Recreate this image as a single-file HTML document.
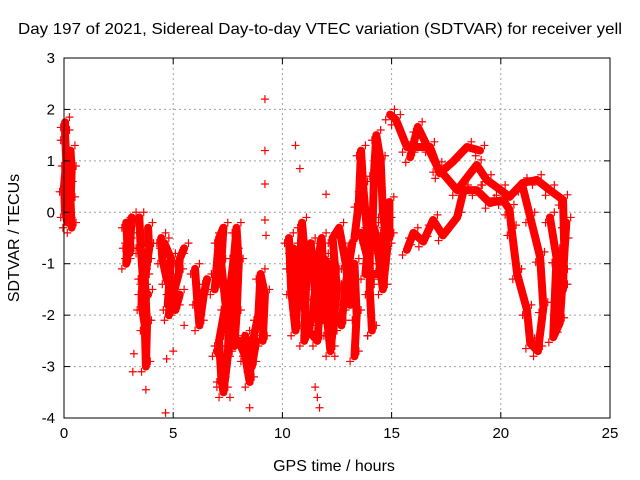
<!DOCTYPE html>
<html><head><meta charset="utf-8"><style>
body{margin:0;background:#fff}
svg{display:block;font-family:"Liberation Sans",sans-serif}
</style></head><body>
<svg id="chart" width="640" height="480">
<text x="18" y="34" font-size="16" textLength="604" lengthAdjust="spacingAndGlyphs">Day 197 of 2021, Sidereal Day-to-day VTEC variation (SDTVAR) for receiver yell</text>
<g id="grid"></g>
<g id="marks"></g>
<g id="axes"></g>
<text x="334" y="471" font-size="16" text-anchor="middle">GPS time / hours</text>
<text transform="translate(19,238) rotate(-90)" font-size="16" text-anchor="middle">SDTVAR / TECUs</text>
</svg>
<script>
const xTicks=[0,5,10,15,20,25];
const yTicks=[3,2,1,0,-1,-2,-3,-4];
const tracks=[
[[0.05,1.75],[0.05,1.5],[0.1,1.0],[0.0,0.5],[0.05,0.0],[0.15,-0.2],[0.2,0.5],[0.3,1.2],[0.35,0.8],[0.3,0.2],[0.35,-0.3]],
[[2.85,-0.2],[2.9,-0.6],[2.85,-1.0],[3.0,-0.5],[3.1,-0.1],[3.0,-0.8]],
[[3.45,-0.1],[3.5,-0.6],[3.6,-1.2],[3.55,-1.8],[3.7,-2.2],[3.75,-3.0],[3.8,-2.2],[3.7,-1.3],[3.9,-0.7],[3.85,-0.3]],
[[3.5,-0.7],[3.8,-1.0],[3.6,-1.5],[3.85,-1.6]],
[[4.45,-0.5],[4.5,-0.9],[4.7,-1.3],[4.9,-1.5],[4.8,-2.0],[5.0,-1.6],[5.25,-1.2],[5.3,-0.9],[5.5,-0.7]],
[[4.6,-0.6],[4.9,-0.9],[4.75,-1.8],[5.1,-1.9],[5.3,-1.6]],
[[6.0,-1.1],[6.1,-1.7],[6.2,-2.2],[6.4,-1.6],[6.55,-1.3]],
[[6.9,-1.5],[7.1,-0.5],[7.3,-0.3],[7.2,-1.0],[7.4,-1.8],[7.1,-2.5],[7.2,-3.2],[7.3,-3.5],[7.5,-2.8],[7.6,-1.5],[7.8,-0.8],[7.9,-0.3],[8.0,-1.0],[7.9,-2.0],[7.8,-2.6]],
[[7.0,-2.7],[7.4,-2.9],[7.2,-3.3]],
[[8.0,-2.5],[8.3,-2.8],[8.5,-3.3],[8.6,-2.6],[8.9,-2.0],[9.0,-1.2],[9.2,-1.6],[9.1,-2.5]],
[[8.3,-2.4],[8.6,-3.0],[8.8,-2.5],[8.4,-2.7]],
[[10.3,-0.5],[10.4,-1.5],[10.6,-2.3],[10.8,-1.0],[10.9,-0.2],[11.1,-1.2],[11.0,-2.5],[11.4,-2.0],[11.6,-1.0],[11.8,-0.5],[11.9,-1.5],[12.1,-2.3],[12.2,-2.7],[12.5,-1.5],[12.3,-0.5],[12.6,-0.3],[12.9,-1.0],[13.1,-1.8]],
[[10.4,-1.0],[10.7,-1.8],[11.0,-1.4],[11.3,-0.6],[11.5,-1.6],[11.8,-2.1],[12.0,-1.0],[12.3,-1.9],[12.7,-2.2],[12.9,-1.4],[13.2,-0.6]],
[[10.5,-0.7],[10.9,-1.6],[11.2,-2.3],[11.6,-2.5],[11.9,-0.9],[12.4,-1.2]],
[[13.3,-0.5],[13.5,0.2],[13.6,1.2],[13.7,0.5],[13.9,-0.5],[14.1,-0.7],[14.2,0.8],[14.3,1.5],[14.5,1.0],[14.6,0.0],[14.8,-0.7],[14.6,-1.5],[14.3,-0.5],[14.9,-0.5],[14.9,0.2]],
[[13.6,-0.4],[13.9,-0.9],[14.2,-0.3],[14.5,-0.9],[14.8,-0.2],[14.4,-1.2],[13.8,-1.2],[14.0,-0.3]],
[[13.3,-1.0],[13.4,-2.0],[13.3,-2.8]],
[[14.0,-0.5],[14.0,-1.5],[14.1,-2.3]],
[[14.93,1.9],[15.2,1.8],[15.7,1.27],[16.76,1.27],[17.2,0.76],[17.8,0.98],[18.45,1.27],[19.05,1.2]],
[[15.85,1.07],[16.2,1.66],[17.1,0.88],[18.0,0.43],[18.9,0.92],[19.35,0.63],[20.0,0.43],[20.4,0.3],[21.0,0.57],[21.65,0.63],[22.25,0.43],[22.85,0.24],[22.9,-0.6],[22.85,-1.5]],
[[15.7,-0.73],[16.0,-0.4],[16.45,-0.57],[16.9,-0.15],[17.35,-0.45],[18.0,-0.1],[18.3,0.43],[18.9,0.43],[19.5,0.18],[20.1,0.24],[20.4,0.05],[20.5,-0.35],[20.75,-1.2],[21.2,-1.9],[21.35,-2.55],[21.7,-2.7],[21.95,-1.85],[21.8,-0.87],[21.35,-0.1],[21.0,0.5]],
[[22.25,-0.1],[22.55,-0.88],[22.4,-2.43],[22.7,-2.15],[22.85,-1.2],[23.0,-0.2]]
];
const scatter=[[9.2,2.2],[9.2,1.2],[9.2,0.55],[9.25,-0.45],[9.2,-0.15],[3.2,-2.75],[3.15,-3.1],[4.7,-2.85],[4.65,-3.9],[11.5,-3.4],[11.7,-3.8],[11.6,-3.6],[12.0,0.35],[10.6,1.3],[10.8,0.85],[5.0,-2.7],[5.5,-2.2],[3.75,-3.45],[8.5,-3.8],[7.6,-3.6],[0.05,1.6],[13.9,-2.4],[12.4,-2.8]];
const X0=64,X1=610,Y0=58,Y1=418;
function sx(h){return X0+(h-0)/(25-0)*(X1-X0);}
function sy(v){return Y0+(3-v)/(3-(-4))*(Y1-Y0);}
const NS="http://www.w3.org/2000/svg";
function mk(t,a,p){const e=document.createElementNS(NS,t);for(const k in a)e.setAttribute(k,a[k]);p.appendChild(e);return e;}
const grid=document.getElementById('grid'),axes=document.getElementById('axes'),marks=document.getElementById('marks');
xTicks.forEach(t=>{const x=sx(t);
 if(t>0&&t<25){const g=mk('line',{x1:x,x2:x,y1:Y0,y2:Y1,stroke:'#a0a0a0','stroke-dasharray':'2,3'},grid);
 
 }
 mk('line',{x1:x,x2:x,y1:Y1,y2:Y1-6,stroke:'#000'},axes);mk('line',{x1:x,x2:x,y1:Y0,y2:Y0+6,stroke:'#000'},axes);
 const tx=mk('text',{x:x,y:Y1+20,'font-size':15,'text-anchor':'middle'},axes);tx.textContent=t;
 
 });
yTicks.forEach(t=>{const y=sy(t);
 if(t<3&&t>-4){const g=mk('line',{x1:X0,x2:X1,y1:y,y2:y,stroke:'#a0a0a0','stroke-dasharray':'2,3'},grid);
 
 }
 mk('line',{x1:X0,x2:X0+6,y1:y,y2:y,stroke:'#000'},axes);mk('line',{x1:X1,x2:X1-6,y1:y,y2:y,stroke:'#000'},axes);
 const tx=mk('text',{x:X0-9,y:y+5,'font-size':15,'text-anchor':'end'},axes);tx.textContent=t;
 
 });
const fr=mk('rect',{x:X0,y:Y0,width:X1-X0,height:Y1-Y0,fill:'none',stroke:'#000'},axes);


function plus(h,v){const x=sx(h),y=sy(v);
 const p=mk('path',{d:`M${x-4} ${y}H${x+4}M${x} ${y-4}V${y+4}`,stroke:'#f00','stroke-width':1.2},marks);
 
 }
tracks.forEach(tr=>{
 const pl=mk('polyline',{points:tr.map(p=>sx(p[0])+','+sy(p[1])).join(' '),fill:'none',stroke:'#f00','stroke-width':8,'stroke-linejoin':'round','stroke-linecap':'round'},marks);
 
 
 tr.forEach(p=>{plus(p[0]+0.2,p[1]+0.1);plus(p[0]-0.2,p[1]-0.1);});});
scatter.forEach(p=>plus(p[0],p[1]));
</script>
</body></html>
